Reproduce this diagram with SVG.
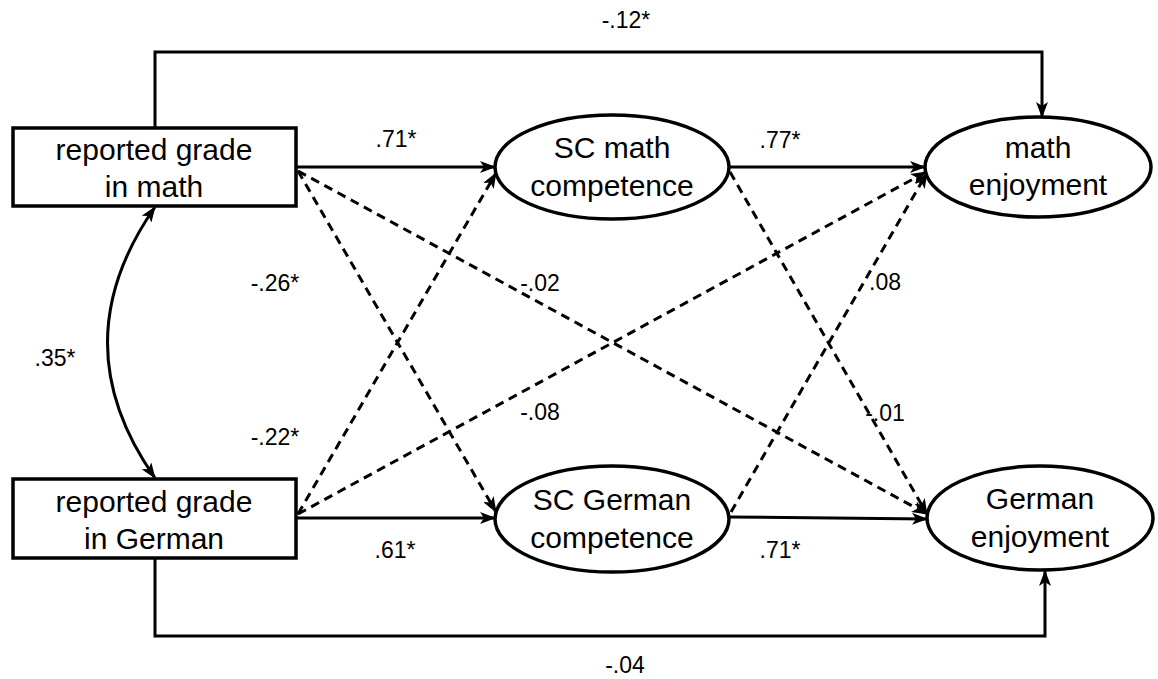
<svg xmlns="http://www.w3.org/2000/svg" width="1158" height="679" viewBox="0 0 1158 679">
<style>
.box{fill:#fff;stroke:#000;stroke-width:3.5}
.ell{fill:#fff;stroke:#000;stroke-width:3.5}
.nt{font-family:"Liberation Sans",Arial,sans-serif;font-size:30px;fill:#000;text-anchor:middle}
.lbl{font-family:"Liberation Sans",Arial,sans-serif;font-size:23px;fill:#000;text-anchor:middle}
.solid{fill:none;stroke:#000;stroke-width:3;marker-end:url(#ah)}
.dash{fill:none;stroke:#000;stroke-width:3;stroke-dasharray:9 6;marker-end:url(#ah)}
</style>
<defs>
<marker id="ah" markerUnits="userSpaceOnUse" markerWidth="16" markerHeight="12" refX="15" refY="6" orient="auto-start-reverse">
<path d="M0,0 L16,6 L0,12 L4,6 z" fill="#000"/>
</marker>
</defs>
<rect width="1158" height="679" fill="#fff"/>
<g id="connectors">
<polyline class="solid" points="155,128 155,52 1042,52 1042,117"/>
<polyline class="solid" points="155,558 155,636 1045,636 1045,571"/>
<path d="M155,207 Q60,343 155,478" fill="none" stroke="#000" stroke-width="3" marker-start="url(#ah)" marker-end="url(#ah)"/>
<line class="solid" x1="296" y1="167" x2="495" y2="167"/>
<line class="solid" x1="296" y1="518" x2="495" y2="518"/>
<line class="solid" x1="730" y1="167" x2="925" y2="167"/>
<line class="solid" x1="729" y1="517" x2="927" y2="519"/>
<line class="dash" x1="298" y1="171" x2="496" y2="512"/>
<line class="dash" x1="298" y1="171" x2="927" y2="514"/>
<line class="dash" x1="298" y1="514" x2="496" y2="173"/>
<line class="dash" x1="298" y1="514" x2="926" y2="172"/>
<line class="dash" x1="730" y1="172" x2="927" y2="514"/>
<line class="dash" x1="731" y1="512" x2="927" y2="173"/>
</g>
<g id="grade_math">
<rect class="box" x="13" y="128" width="283" height="78"/>
<text class="nt" x="154" y="160">reported grade</text>
<text class="nt" x="154" y="197">in math</text>
</g>
<g id="grade_german">
<rect class="box" x="13" y="479" width="283" height="79"/>
<text class="nt" x="154" y="512">reported grade</text>
<text class="nt" x="154" y="549">in German</text>
</g>
<g id="sc_math">
<ellipse class="ell" cx="612" cy="167" rx="117" ry="52"/>
<text class="nt" x="612" y="158">SC math</text>
<text class="nt" x="612" y="196">competence</text>
</g>
<g id="sc_german">
<ellipse class="ell" cx="612" cy="519" rx="117" ry="53"/>
<text class="nt" x="612" y="510">SC German</text>
<text class="nt" x="612" y="548">competence</text>
</g>
<g id="math_enjoyment">
<ellipse class="ell" cx="1038" cy="167" rx="113" ry="50"/>
<text class="nt" x="1038" y="158">math</text>
<text class="nt" x="1038" y="195">enjoyment</text>
</g>
<g id="german_enjoyment">
<ellipse class="ell" cx="1040" cy="518" rx="113" ry="52"/>
<text class="nt" x="1040" y="509">German</text>
<text class="nt" x="1040" y="547">enjoyment</text>
</g>
<g id="labels">
<text class="lbl" x="626" y="28">-.12*</text>
<text class="lbl" x="396" y="147">.71*</text>
<text class="lbl" x="780" y="148">.77*</text>
<text class="lbl" x="275" y="291">-.26*</text>
<text class="lbl" x="540" y="291">-.02</text>
<text class="lbl" x="885" y="290">.08</text>
<text class="lbl" x="55" y="366">.35*</text>
<text class="lbl" x="275" y="445">-.22*</text>
<text class="lbl" x="540" y="420">-.08</text>
<text class="lbl" x="885" y="421">-.01</text>
<text class="lbl" x="395" y="558">.61*</text>
<text class="lbl" x="780" y="558">.71*</text>
<text class="lbl" x="625" y="673">-.04</text>
</g>
</svg>
